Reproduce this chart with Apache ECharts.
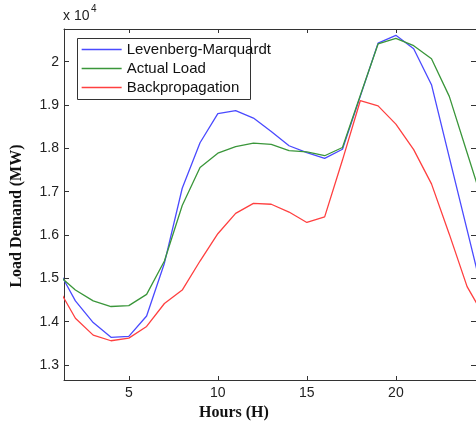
<!DOCTYPE html>
<html>
<head>
<meta charset="utf-8">
<script src="https://cdn.jsdelivr.net/npm/echarts@6/dist/echarts.min.js"></script>
<style>
html,body{margin:0;padding:0;background:#fff;}
#chart{width:476px;height:427px;}
</style>
</head>
<body>
<div id="chart"></div>
<script>
// Hours (the trace continues past the visible right edge, so a 25th hour is included)
const hours = [1,2,3,4,5,6,7,8,9,10,11,12,13,14,15,16,17,18,19,20,21,22,23,24,25];
// Load demand in MW
const levenbergMarquardt = [15230,14480,13980,13640,13660,14130,15350,17080,18130,18800,18870,18700,18390,18060,17900,17770,17980,19200,20430,20610,20300,19470,17790,16120,14440];
const actualLoad = [15090,14730,14480,14350,14370,14630,15400,16680,17560,17890,18040,18120,18090,17950,17920,17830,18020,19220,20410,20540,20370,20070,19200,17900,16600];
const backpropagation = [14800,14080,13690,13560,13620,13890,14420,14730,15400,16030,16500,16730,16710,16530,16290,16420,17730,19100,18980,18560,17970,17180,16020,14810,14090];
const seriesNames = ['Levenberg-Marquardt','Actual Load','Backpropagation'];
const xTicks = [5,10,15,20];
const yTicks = [13000,14000,15000,16000,17000,18000,19000,20000];

const pairs = arr => hours.map((h,i)=>[h,arr[i]]);
const colors = ['#4a4aff','#3a963a','#ff4040'];
const axisColor = '#333';
const labelFont = {color:'#222', fontSize:14, fontFamily:'Liberation Sans, Arial, sans-serif'};

const chart = echarts.init(document.getElementById('chart'), null, {renderer:'canvas'});
chart.setOption({
  animation:false,
  backgroundColor:'#fff',
  grid:{left:64, top:29, width:413, height:351, containLabel:false},
  xAxis:[{
    type:'value', min:1.36, max:24.5, position:'bottom',
    axisLine:{show:true, onZero:false, lineStyle:{color:axisColor, width:1}},
    axisTick:{show:true, inside:true, length:4, customValues:xTicks, lineStyle:{color:axisColor}},
    axisLabel:{show:true, customValues:xTicks, margin:6, ...labelFont},
    splitLine:{show:false}
  },{
    type:'value', min:1.36, max:24.5, position:'top',
    axisLine:{show:true, onZero:false, lineStyle:{color:axisColor, width:1}},
    axisTick:{show:true, inside:true, length:4, customValues:xTicks, lineStyle:{color:axisColor}},
    axisLabel:{show:false},
    splitLine:{show:false}
  }],
  yAxis:[{
    type:'value', min:12654, max:20755, position:'left',
    axisLine:{show:true, onZero:false, lineStyle:{color:axisColor, width:1}},
    axisTick:{show:true, inside:true, length:5, customValues:yTicks, lineStyle:{color:axisColor}},
    axisLabel:{show:true, customValues:yTicks, margin:5, formatter:v=>String(+(v/10000).toFixed(1)), ...labelFont},
    splitLine:{show:false}
  },{
    type:'value', min:12654, max:20755, position:'right',
    axisLine:{show:true, onZero:false, lineStyle:{color:axisColor, width:1}},
    axisTick:{show:true, inside:true, length:5, customValues:yTicks, lineStyle:{color:axisColor}},
    axisLabel:{show:false},
    splitLine:{show:false}
  }],
  legend:{
    show:true, orient:'vertical', left:81, top:42, padding:0, itemGap:4,
    itemWidth:40, itemHeight:14, z:10,
    data:seriesNames,
    itemStyle:{opacity:0},
    lineStyle:{width:1.3},
    textStyle:{color:'#111', fontSize:15, lineHeight:15, fontFamily:'Liberation Sans, Arial, sans-serif'}
  },
  graphic:[
    {type:'rect', z:8, shape:{x:77.5, y:38.5, width:173, height:61}, style:{fill:'#fff', stroke:'#333', lineWidth:1}},
    {type:'text', left:63, top:9, style:{text:'x 10', fill:'#222', font:'14px Liberation Sans, Arial, sans-serif'}},
    {type:'text', left:91, top:4, style:{text:'4', fill:'#222', font:'10px Liberation Sans, Arial, sans-serif'}},
    {type:'text', x:234, y:413, style:{text:'Hours (H)', fill:'#111', font:'bold 16px Liberation Serif, Times New Roman, serif', align:'center', verticalAlign:'middle'}},
    {type:'text', x:17, y:216, rotation:Math.PI/2, style:{text:'Load Demand (MW)', fill:'#111', font:'bold 16px Liberation Serif, Times New Roman, serif', align:'center', verticalAlign:'middle'}}
  ],
  series:[
    {name:seriesNames[0], type:'line', data:pairs(levenbergMarquardt), symbol:'none', clip:true, color:colors[0], lineStyle:{color:colors[0], width:1.3}},
    {name:seriesNames[1], type:'line', data:pairs(actualLoad), symbol:'none', clip:true, color:colors[1], lineStyle:{color:colors[1], width:1.3}},
    {name:seriesNames[2], type:'line', data:pairs(backpropagation), symbol:'none', clip:true, color:colors[2], lineStyle:{color:colors[2], width:1.3}}
  ]
});
</script>
</body>
</html>
